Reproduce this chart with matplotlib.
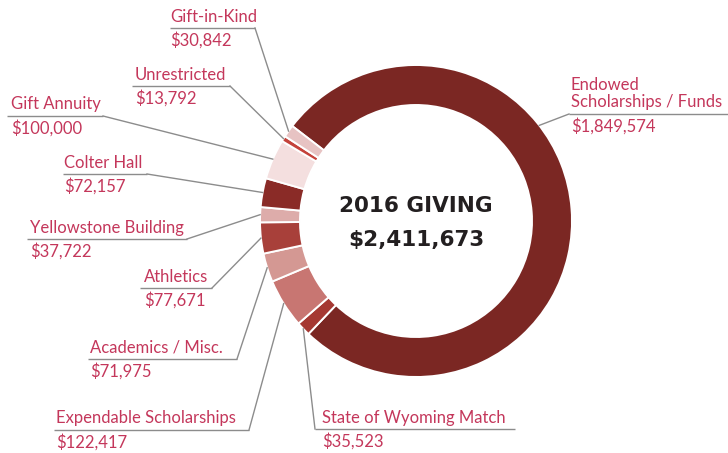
"""Donut de donaciones 2016 con etiquetas y lineas guia."""

import matplotlib
matplotlib.use("Agg")
import matplotlib.pyplot as plt
import numpy as np

W, H = 728, 453

categories = [
    "Endowed\nScholarships / Funds",
    "State of Wyoming Match",
    "Expendable Scholarships",
    "Academics / Misc.",
    "Athletics",
    "Yellowstone Building",
    "Colter Hall",
    "Gift Annuity",
    "Unrestricted",
    "Gift-in-Kind",
]
amounts = [1849574, 35523, 122417, 71975, 77671, 37722, 72157, 100000, 13792, 30842]
title = "2016 GIVING"

colors = ["#7B2723", "#A53832", "#C87672", "#D49893", "#A8403A",
          "#DDACAA", "#8A2B27", "#F4DFDF", "#C4423B", "#E7C3C3"]

# layout en pixeles: x del texto, y del subrayado, x0/x1 del subrayado, extremo con guia
label_layout = [
    (571, 114, 569, 728, "left"),
    (322, 429, 315, 515, "left"),
    (56, 430, 54, 249, "right"),
    (90, 359, 88, 237, "right"),
    (144, 288, 140, 212, "right"),
    (30, 239, 27, 187, "right"),
    (64, 174, 63, 147, "right"),
    (11, 116, 7, 103, "right"),
    (135, 86, 132, 230, "right"),
    (170, 28, 170, 255, "right"),
]
# angulo (visual) fijo de la guia para la porcion grande
anchor_override = {0: 37.8}

CX, CY, R, RING = 416, 221, 156, 40
TEXT = "#C4375B"
LEADER = "#8C8C8C"
FONT = "Lato"

fig = plt.figure(figsize=(W / 100, H / 100), dpi=100)
ax = fig.add_axes([0, 0, 1, 1])

# eje y invertido: coordenadas de pixel directas, por eso counterclock=True
wedges, _ = ax.pie(
    amounts, colors=colors, startangle=-142.5, counterclock=True,
    center=(CX, CY), radius=R,
    wedgeprops=dict(width=RING, edgecolor="white", linewidth=1.4),
)
ax.set_xlim(0, W)
ax.set_ylim(H, 0)
ax.set_aspect("equal")
ax.axis("off")

for i, (w, name, amt) in enumerate(zip(wedges, categories, amounts)):
    tx, uy, x0, x1, side = label_layout[i]
    if i in anchor_override:
        theta = -anchor_override[i]
    else:
        theta = (w.theta1 + w.theta2) / 2
    ax_x = CX + R * np.cos(np.radians(theta))
    ax_y = CY + R * np.sin(np.radians(theta))
    lx = x1 if side == "right" else x0
    ax.plot([x0, x1], [uy, uy], color=LEADER, lw=1.0, solid_capstyle="butt")
    ax.plot([lx, ax_x], [uy, ax_y], color=LEADER, lw=1.0)
    ax.text(tx, uy - 6.5, name, color=TEXT, fontsize=12, family=FONT,
            ha="left", va="baseline", linespacing=1.1)
    ax.text(tx, uy + 18, f"${amt:,}", color=TEXT, fontsize=12, family=FONT,
            ha="left", va="baseline")

ax.text(CX, 205.5, title, color="#231F20", fontsize=15.5, family="DejaVu Sans",
        fontweight="bold", ha="center", va="center")
ax.text(CX, 240, f"${sum(amounts):,}", color="#231F20", fontsize=15.5,
        family="DejaVu Sans", fontweight="bold", ha="center", va="center")

fig.savefig("out.png", dpi=100, facecolor="white")
